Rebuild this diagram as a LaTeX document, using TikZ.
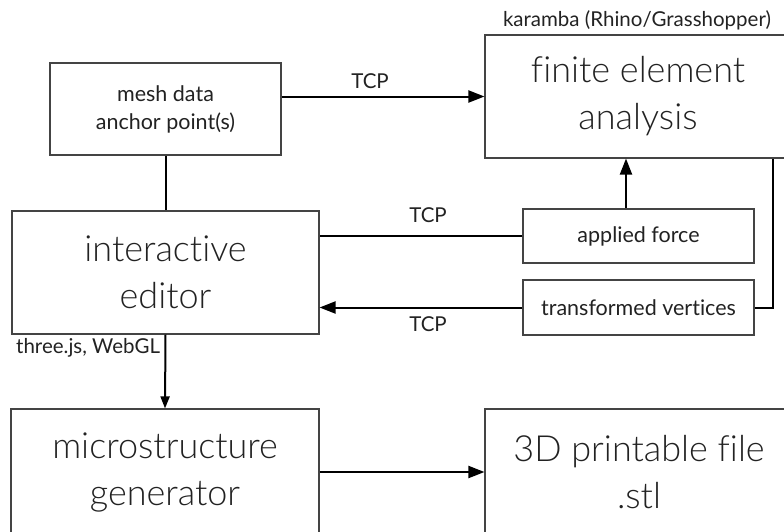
\documentclass[tikz,border=0pt]{standalone}
\usepackage{fontspec}
\setmainfont{Lato}[Ligatures=NoCommon]
\newfontfamily\lightfont{Lato Light}[Ligatures=NoCommon]
\usetikzlibrary{arrows.meta}
\definecolor{ink}{HTML}{222222}
\definecolor{edge}{HTML}{444444}
\tikzset{
  box/.style={draw=edge, line width=1.1pt, fill=white, text=ink, align=center, inner sep=0pt},
  bigbox/.style={box, font=\lightfont\fontsize{36}{47}\selectfont},
  smallbox/.style={box, font=\fontsize{21.5}{28}\selectfont},
  lbl/.style={text=ink, inner sep=0pt, font=\fontsize{20.5}{24}\selectfont},
  link/.style={line width=2pt, draw=black},
  arr/.style={link, -{Triangle[length=16pt, width=12pt]}},
  arrs/.style={link, -{Triangle[length=12pt, width=9pt]}},
}
\begin{document}
\begin{tikzpicture}[x=1pt, y=-1pt]
\useasboundingbox (0,0) rectangle (784,531);
\clip (0,0) rectangle (784,531);

% blocks
\node[smallbox, minimum width=231pt, minimum height=92pt] (mesh) at (165.5,109) {mesh data\\anchor point(s)};
\node[bigbox, minimum width=306pt, minimum height=123pt] (fem) at (638,96.5) {finite element\\analysis};
\node[bigbox, minimum width=307pt, minimum height=123pt] (editor) at (165.5,272.5) {interactive\\editor};
\node[smallbox, minimum width=231pt, minimum height=54pt] (force) at (638.5,236) {applied force};
\node[smallbox, minimum width=231pt, minimum height=55pt] (verts) at (638.5,307.5) {transformed vertices};
\node[bigbox, minimum width=308pt, minimum height=126pt] (micro) at (165,472) {microstructure\\generator};
\node[bigbox, minimum width=308pt, minimum height=126pt] (stl) at (639,472) {3D printable file\\.stl};

% captions
\node[lbl] (karamba) at (637,20) {karamba (Rhino/Grasshopper)};
\node[lbl, anchor=west] (webgl) at (16,348) {three.js, WebGL};
\node[lbl] (tcpa) at (370,81) {TCP};
\node[lbl] (tcpb) at (428,215) {TCP};
\node[lbl] (tcpc) at (428,324) {TCP};

% connectors
\draw[arr] (mesh.east |- fem.west) -- (fem.west);
\draw[link] (mesh.south) -- (editor.north);
\draw[link] (force.west) -- (force.west -| editor.east);
\draw[arr] (verts.west) -- (verts.west -| editor.east);
\draw[arr] ([xshift=-12.5pt]force.north) -- ([xshift=-12.5pt]force.north |- fem.south);
\draw[link] (verts.east) -| ([xshift=135pt]fem.south);
\draw[arrs] (editor.south) -- (micro.north);
\draw[arr] (micro.east) -- (stl.west);
\end{tikzpicture}
\end{document}
